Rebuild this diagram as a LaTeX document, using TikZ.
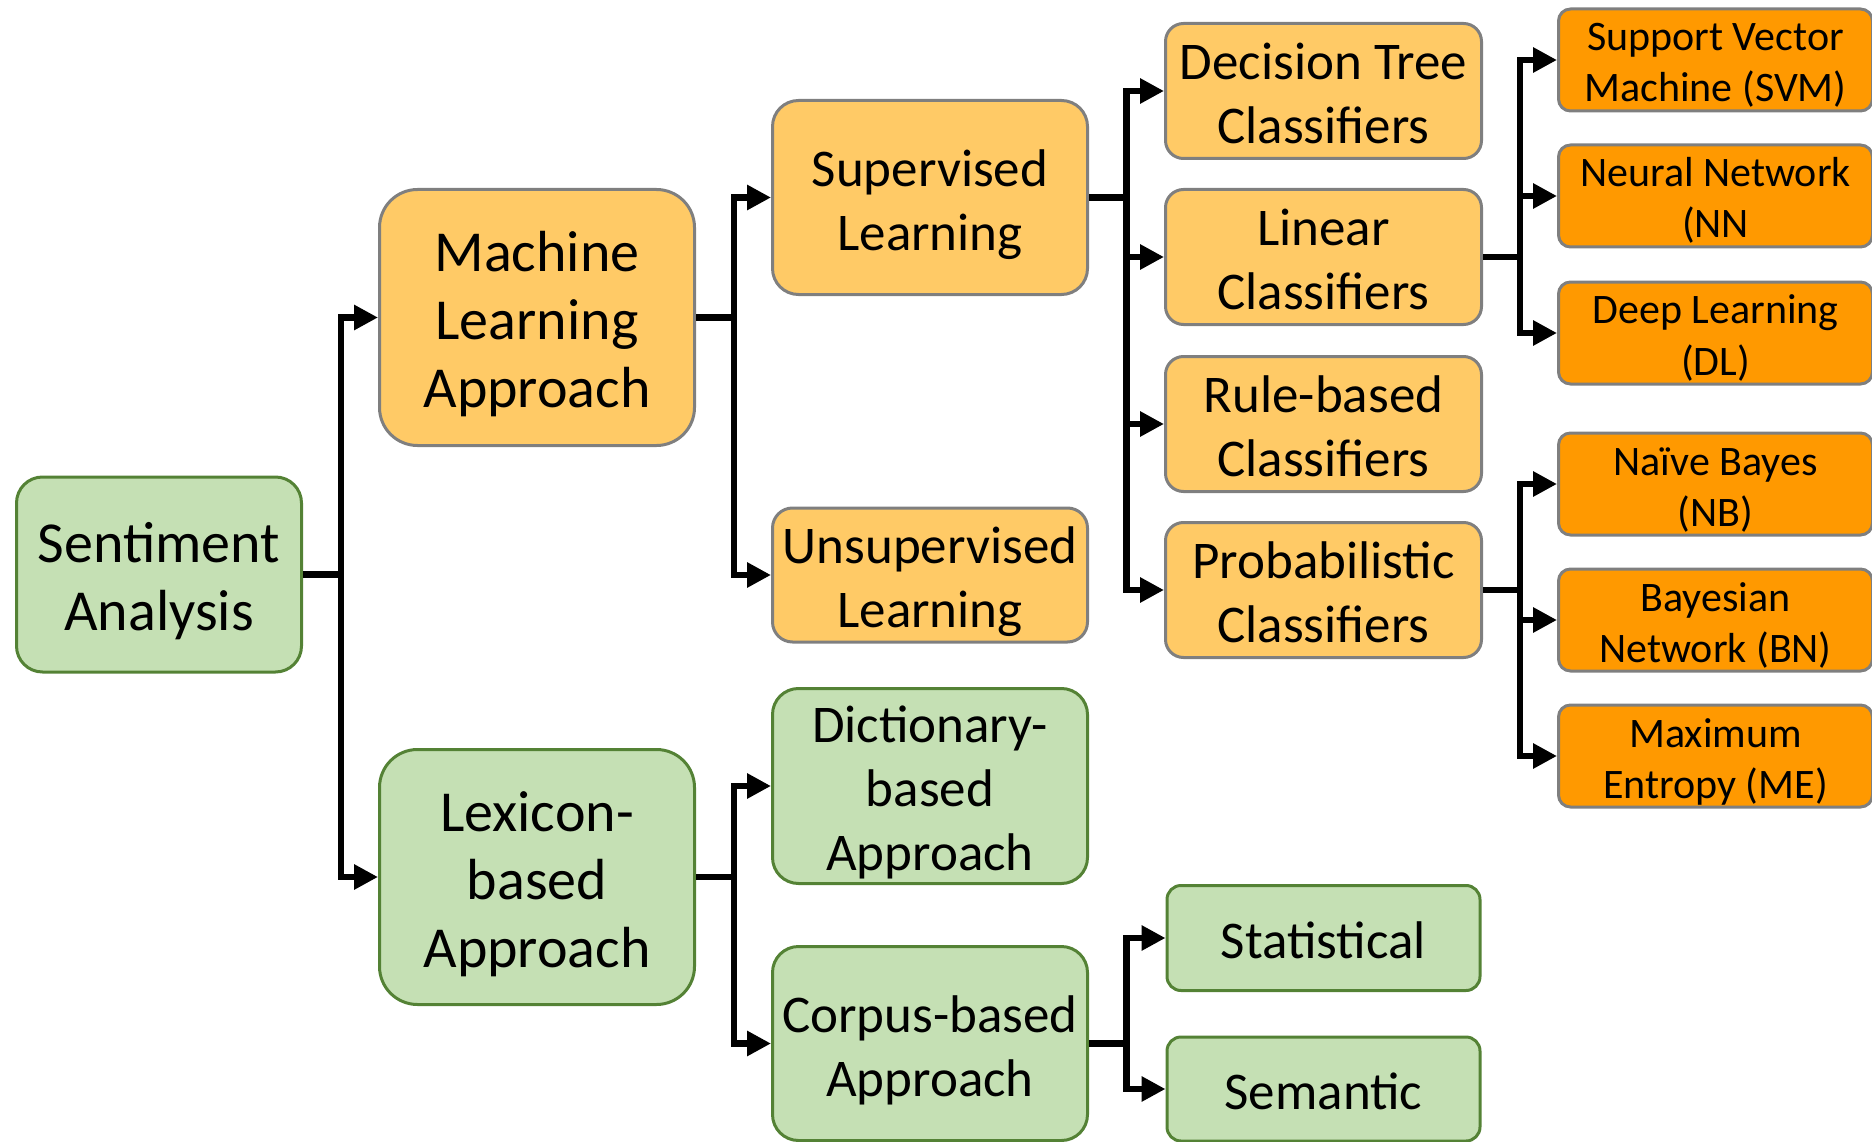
\documentclass[tikz,border=0pt]{standalone}
\usepackage{fontspec}
\setmainfont{Carlito}
\usetikzlibrary{arrows.meta}
\definecolor{lorange}{HTML}{FFCA66}
\definecolor{dorange}{HTML}{FF9900}
\definecolor{lgreen}{HTML}{C5E0B4}
\definecolor{dgreen}{HTML}{548235}
\definecolor{gborder}{HTML}{7F7F7F}
% text block: lines spaced by the font's baselineskip, centred by line metrics
\newcommand\tx[1]{\raisebox{-0.15em}[\height][\depth]{\begin{tabular}{@{}c@{}}#1\end{tabular}}}
\tikzset{
  box/.style={draw, line width=3pt, inner sep=0pt},
  bigtxt/.style={font=\fontsize{58}{68}\selectfont},
  midtxt/.style={font=\fontsize{53}{64}\selectfont},
  smalltxt/.style={font=\fontsize{42}{51}\selectfont},
  gbox/.style={box, fill=lgreen, draw=dgreen},
  obox/.style={box, fill=lorange, draw=gborder},
  dbox/.style={box, fill=dorange, draw=gborder, smalltxt, rounded corners=12pt,
               minimum width=314pt, minimum height=102pt},
  clbox/.style={obox, midtxt, rounded corners=18pt, minimum width=316pt, minimum height=135pt},
  conn/.style={line width=6.5pt, line join=miter, -{Triangle[length=24pt,width=24pt]}}
}
\begin{document}
\begin{tikzpicture}[x=1pt,y=-1pt]
\useasboundingbox (0,0) rectangle (1872,1142);

% level 0
\node[gbox, bigtxt, rounded corners=26pt, minimum width=285pt, minimum height=195pt] (sa) at (159,574.5) {\tx{Sentiment\\Analysis}};

% level 1
\node[obox, bigtxt, rounded corners=38pt, minimum width=315pt, minimum height=256pt] (ml) at (537,317.5) {\tx{Machine\\Learning\\Approach}};
\node[gbox, bigtxt, rounded corners=38pt, minimum width=315pt, minimum height=255pt] (lex) at (537,877) {\tx{Lexicon-\\based\\Approach}};

% level 2
\node[obox, midtxt, rounded corners=26pt, minimum width=315pt, minimum height=194pt] (sup) at (930,197.5) {\tx{Supervised\\Learning}};
\node[obox, midtxt, rounded corners=20pt, minimum width=315pt, minimum height=134pt] (unsup) at (930,575) {\tx{Unsupervised\\Learning}};
\node[gbox, midtxt, rounded corners=26pt, minimum width=315pt, minimum height=195pt] (dict) at (930,786) {\tx{Dictionary-\\based\\Approach}};
\node[gbox, midtxt, rounded corners=26pt, minimum width=315pt, minimum height=194pt] (corp) at (930,1043.5) {\tx{Corpus-based\\Approach}};

% level 3
\node[clbox] (dt) at (1323.5,91) {\tx{Decision Tree\\Classifiers}};
\node[clbox] (lin) at (1323.5,257) {\tx{Linear\\Classifiers}};
\node[clbox] (rule) at (1323.5,424) {\tx{Rule-based\\Classifiers}};
\node[clbox] (prob) at (1323.5,590) {\tx{Probabilistic\\Classifiers}};
\node[gbox, midtxt, rounded corners=14pt, minimum width=313pt, minimum height=105pt] (stat) at (1323.5,938) {\tx{Statistical}};
\node[gbox, midtxt, rounded corners=14pt, minimum width=313pt, minimum height=104pt] (sem) at (1323.5,1089) {\tx{Semantic}};

% level 4
\node[dbox] (svm) at (1715.5,60) {\tx{Support Vector\\Machine (SVM)}};
\node[dbox] (nn) at (1715.5,196) {\tx{Neural Network\\(NN}};
\node[dbox] (dl) at (1715.5,333) {\tx{Deep Learning\\(DL)}};
\node[dbox] (nb) at (1715.5,484) {\tx{Naïve Bayes\\(NB)}};
\node[dbox] (bn) at (1715.5,620) {\tx{Bayesian\\Network (BN)}};
\node[dbox] (me) at (1715.5,756) {\tx{Maximum\\Entropy (ME)}};

% trunk positions
\coordinate (t1) at (341,0);
\coordinate (t2) at (734,0);
\coordinate (t3) at (1126.5,0);
\coordinate (t4) at (1520,0);

% connectors
\draw[conn] (sa.east) -- (sa.east -| t1) |- (ml.west);
\draw[conn] (sa.east) -- (sa.east -| t1) |- (lex.west);

\draw[conn] (ml.east) -- (ml.east -| t2) |- (sup.west);
\draw[conn] (ml.east) -- (ml.east -| t2) |- (unsup.west);

\draw[conn] (lex.east) -- (lex.east -| t2) |- (dict.west);
\draw[conn] (lex.east) -- (lex.east -| t2) |- (corp.west);

\draw[conn] (sup.east) -- (sup.east -| t3) |- (dt.west);
\draw[conn] (sup.east) -- (sup.east -| t3) |- (lin.west);
\draw[conn] (sup.east) -- (sup.east -| t3) |- (rule.west);
\draw[conn] (sup.east) -- (sup.east -| t3) |- (prob.west);

\draw[conn] (corp.east) -- (corp.east -| t3) |- (stat.west);
\draw[conn] (corp.east) -- (corp.east -| t3) |- (sem.west);

\draw[conn] (lin.east) -- (lin.east -| t4) |- (svm.west);
\draw[conn] (lin.east) -- (lin.east -| t4) |- (nn.west);
\draw[conn] (lin.east) -- (lin.east -| t4) |- (dl.west);

\draw[conn] (prob.east) -- (prob.east -| t4) |- (nb.west);
\draw[conn] (prob.east) -- (prob.east -| t4) |- (bn.west);
\draw[conn] (prob.east) -- (prob.east -| t4) |- (me.west);
\end{tikzpicture}
\end{document}
